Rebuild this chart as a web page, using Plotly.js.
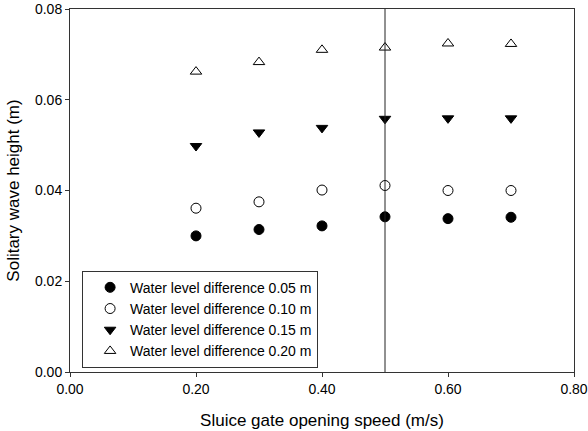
<!DOCTYPE html>
<html>
<head>
<meta charset="utf-8">
<script src="https://cdn.plot.ly/plotly-3.0.1.min.js"></script>
<style>
  html, body { margin: 0; padding: 0; background: #fff; }
  #chart { width: 588px; height: 431px; }
</style>
</head>
<body>
<div id="chart"></div>
<script>
// Sluice gate opening speed (m/s)
const speeds = [0.2, 0.3, 0.4, 0.5, 0.6, 0.7];

// Solitary wave height (m) for each water level difference
const height005 = [0.0300, 0.0314, 0.0322, 0.0342, 0.0338, 0.0341];
const height010 = [0.0361, 0.0375, 0.0401, 0.0411, 0.0400, 0.0400];
const height015 = [0.0498, 0.0528, 0.0538, 0.0558, 0.0559, 0.0559];
const height020 = [0.0662, 0.0683, 0.0710, 0.0715, 0.0724, 0.0723];

const seriesNames = [
  'Water level difference 0.05 m',
  'Water level difference 0.10 m',
  'Water level difference 0.15 m',
  'Water level difference 0.20 m'
];

// Speed marked by the vertical reference line
const markedSpeed = 0.5;

const FONT = 'Liberation Sans, Arial, sans-serif';
const INK = '#000000';

function series(y, name, symbol, size) {
  return {
    type: 'scatter', mode: 'markers', x: speeds, y: y, name: name,
    marker: { symbol: symbol, size: size, color: INK, line: { color: INK, width: 1 } }
  };
}

const data = [
  series(height005, seriesNames[0], 'circle', 10),
  series(height010, seriesNames[1], 'circle-open', 10),
  series(height015, seriesNames[2], 'triangle-down', 10),
  series(height020, seriesNames[3], 'triangle-up-open', 10)
];

const axisCommon = {
  showgrid: false, zeroline: false,
  showline: true, linecolor: '#333', linewidth: 1, mirror: true,
  ticks: 'outside', ticklen: 4, tickwidth: 1, tickcolor: '#333',
  tickformat: '.2f',
  tickfont: { family: FONT, size: 14, color: INK }
};

const layout = {
  width: 588, height: 431,
  margin: { l: 70, r: 14, t: 9, b: 59 },
  paper_bgcolor: '#fff', plot_bgcolor: '#fff',
  font: { family: FONT, color: INK },
  showlegend: true,
  xaxis: Object.assign({}, axisCommon, {
    range: [0, 0.8], dtick: 0.2, tick0: 0,
    title: { text: 'Sluice gate opening speed (m/s)', font: { family: FONT, size: 17, color: INK }, standoff: 18 }
  }),
  yaxis: Object.assign({}, axisCommon, {
    range: [0, 0.08], dtick: 0.02, tick0: 0,
    title: { text: 'Solitary wave height (m)', font: { family: FONT, size: 17, color: INK }, standoff: 11 }
  }),
  legend: {
    x: 0.024, y: 0.279, xanchor: 'left', yanchor: 'top',
    bgcolor: '#fff', bordercolor: '#333', borderwidth: 1,
    font: { family: FONT, size: 14, color: INK },
    indentation: 7,
    tracegroupgap: 0
  },
  shapes: [{
    type: 'line', xref: 'x', yref: 'paper',
    x0: markedSpeed, x1: markedSpeed, y0: 0, y1: 1,
    line: { color: '#222', width: 1 }
  }]
};

Plotly.newPlot('chart', data, layout, { displayModeBar: false, staticPlot: true });
</script>
</body>
</html>
